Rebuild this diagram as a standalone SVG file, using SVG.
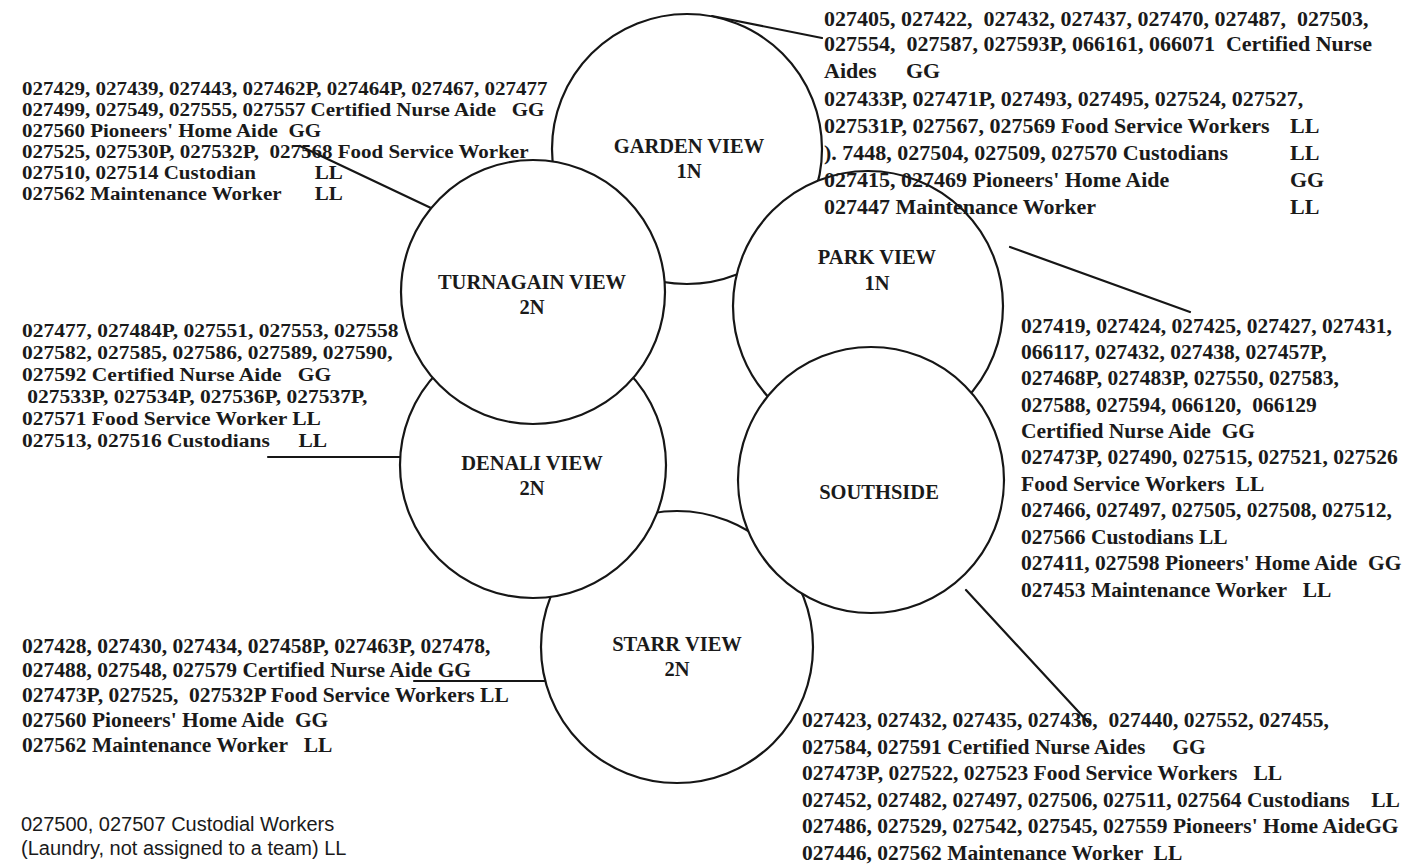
<svg xmlns="http://www.w3.org/2000/svg" width="1418" height="867" viewBox="0 0 1418 867">
  <style>
    .ring { fill: #ffffff; stroke: #161616; stroke-width: 2.2; }
    .lead { stroke: #161616; stroke-width: 2.2; fill: none; stroke-linecap: round; }
    .t { font-family: "Liberation Serif", "Times New Roman", serif; font-size: 21.5px; font-weight: bold; fill: #1a1a1a; white-space: pre; }
    .tc { font-size: 18.8px; }
    .tm { font-size: 19.6px; }
    .tw { font-size: 22px; }
    .lbl { font-family: "Liberation Serif", "Times New Roman", serif; font-size: 20.5px; font-weight: bold; fill: #1a1a1a; text-anchor: middle; }
    .s { font-family: "Liberation Sans", Arial, sans-serif; font-size: 20px; fill: #1a1a1a; white-space: pre; }
  </style>
  <rect width="1418" height="867" fill="#ffffff"/>

  <!-- team circles, stacked so later ones cover earlier ones -->
  <g id="garden-view">
    <circle class="ring" cx="687" cy="149" r="135"/>
    <text class="lbl" x="689" y="153">GARDEN VIEW</text>
    <text class="lbl" x="689" y="178">1N</text>
  </g>
  <g id="park-view">
    <circle class="ring" cx="868" cy="306" r="135"/>
    <text class="lbl" x="877" y="264">PARK VIEW</text>
    <text class="lbl" x="877" y="290">1N</text>
  </g>
  <g id="starr-view">
    <circle class="ring" cx="677" cy="647" r="136"/>
    <text class="lbl" x="677" y="651">STARR VIEW</text>
    <text class="lbl" x="677" y="676">2N</text>
  </g>
  <g id="denali-view">
    <circle class="ring" cx="533" cy="465" r="133"/>
    <text class="lbl" x="532" y="470">DENALI VIEW</text>
    <text class="lbl" x="532" y="495">2N</text>
  </g>
  <g id="southside">
    <circle class="ring" cx="871" cy="480" r="133"/>
    <text class="lbl" x="879" y="499">SOUTHSIDE</text>
  </g>
  <g id="turnagain-view">
    <circle class="ring" cx="533" cy="292" r="132"/>
    <text class="lbl" x="532" y="289">TURNAGAIN VIEW</text>
    <text class="lbl" x="532" y="314">2N</text>
  </g>

  <!-- leader lines from staff lists to teams -->
  <g id="connectors">
    <line class="lead" x1="712" y1="16" x2="822" y2="38"/>
    <line class="lead" x1="300" y1="146" x2="431" y2="208"/>
    <line class="lead" x1="1010" y1="247" x2="1190" y2="312"/>
    <line class="lead" x1="268" y1="457" x2="400" y2="457"/>
    <line class="lead" x1="414" y1="681" x2="545" y2="681"/>
    <line class="lead" x1="966" y1="590" x2="1088" y2="722"/>
  </g>

  <!-- Turnagain View staff (tightly set lines, widened type) -->
  <g id="list-turnagain" transform="translate(22 0) scale(1.117 1)">
    <text class="t tc"><tspan x="0" y="95">027429, 027439, 027443, 027462P, 027464P, 027467, 027477</tspan><tspan x="0" y="116">027499, 027549, 027555, 027557 Certified Nurse Aide   GG</tspan><tspan x="0" y="137">027560 Pioneers' Home Aide  GG</tspan><tspan x="0" y="158">027525, 027530P, 027532P,  027568 Food Service Worker</tspan><tspan x="0" y="179">027510, 027514 Custodian</tspan><tspan x="262" y="179">LL</tspan><tspan x="0" y="200">027562 Maintenance Worker</tspan><tspan x="262" y="200">LL</tspan></text>
  </g>

  <!-- Garden View staff -->
  <g id="list-garden">
    <text class="t tw"><tspan x="824" y="26">027405, 027422,  027432, 027437, 027470, 027487,  027503,</tspan><tspan x="824" y="51">027554,  027587, 027593P, 066161, 066071  Certified Nurse</tspan><tspan x="824" y="78">Aides</tspan><tspan x="906" y="78">GG</tspan><tspan x="824" y="106">027433P, 027471P, 027493, 027495, 027524, 027527,</tspan><tspan x="824" y="133">027531P, 027567, 027569 Food Service Workers</tspan><tspan x="1290" y="133">LL</tspan><tspan x="824" y="160">). 7448, 027504, 027509, 027570 Custodians</tspan><tspan x="1290" y="160">LL</tspan><tspan x="824" y="187">027415, 027469 Pioneers' Home Aide</tspan><tspan x="1290" y="187">GG</tspan><tspan x="824" y="214">027447 Maintenance Worker</tspan><tspan x="1290" y="214">LL</tspan></text>
  </g>

  <!-- Park View staff -->
  <g id="list-park">
    <text class="t"><tspan x="1021" y="333">027419, 027424, 027425, 027427, 027431,</tspan><tspan x="1021" y="359">066117, 027432, 027438, 027457P,</tspan><tspan x="1021" y="385">027468P, 027483P, 027550, 027583,</tspan><tspan x="1021" y="412">027588, 027594, 066120,  066129</tspan><tspan x="1021" y="438">Certified Nurse Aide  GG</tspan><tspan x="1021" y="464">027473P, 027490, 027515, 027521, 027526</tspan><tspan x="1021" y="491">Food Service Workers  LL</tspan><tspan x="1021" y="517">027466, 027497, 027505, 027508, 027512,</tspan><tspan x="1021" y="544">027566 Custodians LL</tspan><tspan x="1021" y="570">027411, 027598 Pioneers' Home Aide  GG</tspan><tspan x="1021" y="597">027453 Maintenance Worker   LL</tspan></text>
  </g>

  <!-- Denali View staff (tightly set lines, widened type) -->
  <g id="list-denali" transform="translate(22 0) scale(1.097 1)">
    <text class="t tm"><tspan x="0" y="337">027477, 027484P, 027551, 027553, 027558</tspan><tspan x="0" y="359">027582, 027585, 027586, 027589, 027590,</tspan><tspan x="0" y="381">027592 Certified Nurse Aide   GG</tspan><tspan x="0" y="403"> 027533P, 027534P, 027536P, 027537P,</tspan><tspan x="0" y="425">027571 Food Service Worker LL</tspan><tspan x="0" y="447">027513, 027516 Custodians</tspan><tspan x="252" y="447">LL</tspan></text>
  </g>

  <!-- Starr View staff -->
  <g id="list-starr">
    <text class="t"><tspan x="22" y="653">027428, 027430, 027434, 027458P, 027463P, 027478,</tspan><tspan x="22" y="677">027488, 027548, 027579 Certified Nurse Aide GG</tspan><tspan x="22" y="702">027473P, 027525,  027532P Food Service Workers LL</tspan><tspan x="22" y="727">027560 Pioneers' Home Aide  GG</tspan><tspan x="22" y="752">027562 Maintenance Worker   LL</tspan></text>
  </g>

  <!-- Southside staff -->
  <g id="list-southside">
    <text class="t"><tspan x="802" y="727">027423, 027432, 027435, 027436,  027440, 027552, 027455,</tspan><tspan x="802" y="754">027584, 027591 Certified Nurse Aides     GG</tspan><tspan x="802" y="780">027473P, 027522, 027523 Food Service Workers   LL</tspan><tspan x="802" y="807">027452, 027482, 027497, 027506, 027511, 027564 Custodians    LL</tspan><tspan x="802" y="833">027486, 027529, 027542, 027545, 027559 Pioneers' Home AideGG</tspan><tspan x="802" y="860">027446, 027562 Maintenance Worker  LL</tspan></text>
  </g>

  <!-- laundry staff, not on a team -->
  <g id="list-laundry">
    <text class="s"><tspan x="21" y="831">027500, 027507 Custodial Workers</tspan><tspan x="21" y="855">(Laundry, not assigned to a team) LL</tspan></text>
  </g>
</svg>
